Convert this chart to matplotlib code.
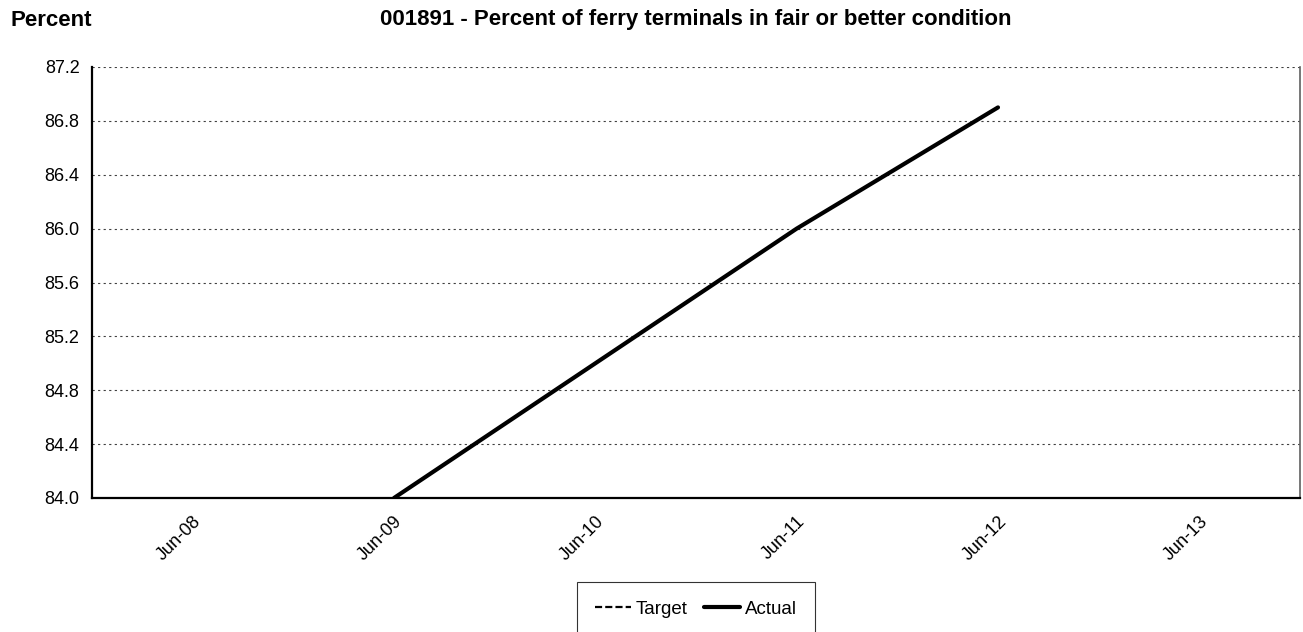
import numpy as np
import matplotlib
matplotlib.use('Agg')
import matplotlib.pyplot as plt
import matplotlib.transforms as mtransforms

plt.rcParams['font.family'] = ['Liberation Sans', 'DejaVu Sans']

# chart data
categories = ['Jun-08', 'Jun-09', 'Jun-10', 'Jun-11', 'Jun-12', 'Jun-13']
actual = [np.nan, 84.0, 85.0, 86.0, 86.9, np.nan]
target = [np.nan, np.nan, np.nan, np.nan, np.nan, np.nan]
y_ticks = [84.0, 84.4, 84.8, 85.2, 85.6, 86.0, 86.4, 86.8, 87.2]

W, H = 1303, 632
fig = plt.figure(figsize=(W / 100, H / 100), dpi=100)
ax = fig.add_axes([92 / W, (H - 498) / H, 1208 / W, (498 - 67) / H])

x = np.arange(len(categories))
ax.plot(x, target, color='black', linewidth=1.6, linestyle=(0, (3.2, 1.4)), label='Target')
ax.plot(x, actual, color='black', linewidth=3.0, solid_capstyle='round', label='Actual', zorder=5)

ax.set_xlim(-0.5, len(categories) - 0.5)
ax.set_ylim(y_ticks[0], y_ticks[-1])
ax.set_yticks(y_ticks)
ax.set_yticklabels(['{:.1f}'.format(v) for v in y_ticks], fontsize=13)
ax.set_xticks(x)
ax.set_xticklabels(categories, fontsize=13, rotation=45, ha='right', va='top',
                   rotation_mode='anchor')
offset = mtransforms.ScaledTranslation(10 / 100, 0, fig.dpi_scale_trans)
for lab in ax.get_xticklabels():
    lab.set_transform(lab.get_transform() + offset)
ax.tick_params(axis='both', length=0)
ax.tick_params(axis='y', pad=9)
ax.tick_params(axis='x', pad=11)

# dotted horizontal gridlines
ax.grid(False)
for v in y_ticks[1:]:
    ax.axhline(v, color='#404040', linewidth=0.8, linestyle=(0, (2, 3)), zorder=1)

ax.spines['top'].set_visible(False)
ax.spines['right'].set_color('#606060')
ax.spines['right'].set_linewidth(1.2)
ax.spines['left'].set_linewidth(1.6)
ax.spines['bottom'].set_linewidth(1.6)
ax.spines['left'].set_zorder(6)
ax.spines['bottom'].set_zorder(6)

fig.text(10 / W, 1 - 20 / H, 'Percent', fontsize=16, fontweight='bold', va='center', ha='left')
fig.text(696 / W, 1 - 20 / H, '001891 - Percent of ferry terminals in fair or better condition',
         fontsize=16, fontweight='bold', va='center', ha='center')

leg = fig.legend(loc='upper center', bbox_to_anchor=(696 / W, 1 - 582 / H), ncol=2,
                 fontsize=13.5, frameon=True, fancybox=False, handlelength=1.9,
                 handletextpad=0.27, columnspacing=0.85, borderpad=1.0, borderaxespad=0)
leg.get_frame().set_edgecolor('black')
leg.get_frame().set_linewidth(0.8)
leg.set_bbox_to_anchor((696 / W, 1 - 582 / H), transform=fig.transFigure)

fig.savefig('out.png', dpi=100)
